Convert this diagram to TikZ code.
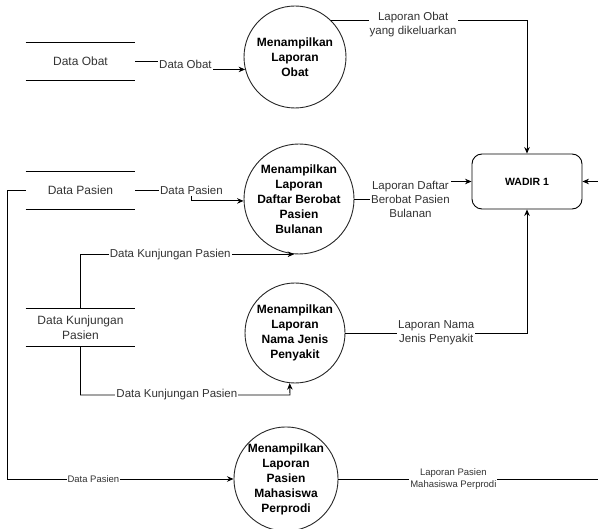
\documentclass[tikz,border=0pt]{standalone}
\usepackage{fontspec}
\setmainfont{Liberation Sans}
\usetikzlibrary{arrows.meta}

\begin{document}
\begin{tikzpicture}[x=1pt, y=-1pt, line width=0.9pt,
    proc/.style={draw=black!85, circle, minimum size=#1, inner sep=0pt, align=center,
      font=\fontsize{12}{15}\selectfont\bfseries},
    store/.style={minimum width=109pt, minimum height=37pt, inner sep=0pt, align=center,
      text=black!80, font=\fontsize{12}{15}\selectfont},
    entity/.style={draw, rounded corners=10pt, minimum width=110pt, minimum height=55pt,
      font=\fontsize{10.5}{13}\selectfont\bfseries},
    flow/.style={-{Stealth[length=6.5pt,width=5.5pt]}},
    lbl/.style={fill=white, inner sep=1pt, align=center, text=black!80,
      font=\fontsize{11.5}{14}\selectfont},
    lbls/.style={lbl, font=\fontsize{9.5}{12.5}\selectfont}]
    \useasboundingbox (0,0) rectangle (598,529);
    \coordinate (kjbend) at (290,395);
    \coordinate (rbend) at (612,479);
    \node[store] (obat) at (80.5,61.5) {Data Obat};
    \node[store] (pasien) at (80.5,190.5) {Data Pasien};
    \node[store] (kunj) at (80.5,327.5) {Data Kunjungan\\Pasien};
    \foreach \s in {obat,pasien,kunj}
      { \draw (\s.north west) -- (\s.north east) (\s.south west) -- (\s.south east); }
    \node[proc=102pt] (c1) at (295,57) {Menampilkan\\Laporan\\Obat};
    \node[proc=110pt] (c2) at (299,199) {Menampilkan\\Laporan\\Daftar Berobat\\Pasien\\Bulanan};
    \node[proc=100pt] (c3) at (295,333) {Menampilkan\\Laporan\\Nama Jenis\\Penyakit};
    \node[proc=99pt] (c4) at (286,479) {Menampilkan\\Laporan\\Pasien\\Mahasiswa\\Perprodi};
    \node[entity] (wadir) at (527,181.5) {WADIR 1};
    \draw[flow] (obat.east) -- ++(50,0) node[lbl, inner ysep=2.5pt, yshift=-2.5pt] {Data Obat} |- (c1.194);
    \draw[flow] (pasien.east) -- ++(56,0) node[lbl] {Data Pasien} |- (c2.182);
    \draw[flow] (pasien.west) -- ++(-18,0) |- node[lbls, pos=0.69] {Data Pasien} (c4.west);
    \draw[flow] (kunj.north) |- node[lbl, pos=0.71] {Data Kunjungan Pasien} (c2.265);
    \draw[flow] (kunj.south) |- node[lbl, pos=0.73] {Data Kunjungan Pasien} (kjbend) -- (c3.264);
    \draw[flow] (c1.46) -| node[lbl, pos=0.21, yshift=-5pt] {Laporan Obat\\yang dikeluarkan} (wadir.north);
    \draw[flow] (c2.east) -- ++(56,0) node[lbl] {Laporan Daftar\\Berobat Pasien\\Bulanan} |- (wadir.west);
    \draw[flow] (c3.east) -| node[lbl, pos=0.25] {Laporan Nama\\Jenis Penyakit} (wadir.south);
    \draw[flow] (c4.east) -- node[lbls, pos=0.42] {Laporan Pasien\\Mahasiswa Perprodi} (rbend) |- (wadir.east);
\end{tikzpicture}
\end{document}
